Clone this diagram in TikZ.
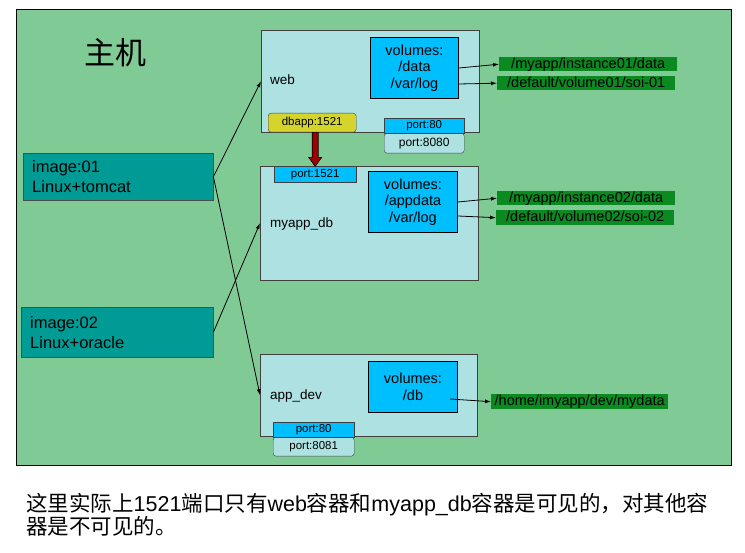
\documentclass[tikz,border=0pt]{standalone}
\usepackage{fontspec}
\setmainfont{Liberation Sans}
\newfontfamily\cjk{Noto Sans CJK SC}
\usetikzlibrary{positioning}
\usetikzlibrary{arrows.meta}
\definecolor{hostgreen}{HTML}{80CA96}
\definecolor{ctrcyan}{HTML}{AEE2E2}
\definecolor{volcyan}{HTML}{00BFFF}
\definecolor{imgteal}{HTML}{009B94}
\definecolor{pathgreen}{HTML}{0B8A22}
\definecolor{dbyellow}{HTML}{D4D42C}
\definecolor{linkred}{HTML}{A00000}
\tikzset{ctr/.style = {draw=black!75, fill=ctrcyan, anchor=north west, inner sep=0}}
\tikzset{vol/.style = {draw=black, line width=1pt, fill=volcyan, anchor=north west,
                       inner sep=0, align=center, font=\fontsize{14.5}{16.5}\selectfont}}
\tikzset{img/.style = {draw=black!70, fill=imgteal, anchor=north west, inner sep=0,
                       align=left, font=\fontsize{16.5}{20}\selectfont}}
\tikzset{hpath/.style = {fill=pathgreen, anchor=north west, inner sep=0,
                         text height=10.5, text depth=2.5, font=\fontsize{14.5}{15}\selectfont}}
\tikzset{port/.style = {draw=black!75, fill=volcyan, anchor=north west, inner sep=0,
                        font=\fontsize{11.5}{13}\selectfont}}
\tikzset{lbl/.style = {anchor=west, inner sep=0, font=\fontsize{13.5}{15}\selectfont}}
\tikzset{conn/.style = {-{Latex[length=6pt,width=4pt]}, line width=0.8pt}}
\begin{document}
\begin{tikzpicture}[x=1pt, y=-1pt]
  \useasboundingbox (0,0) rectangle (745,553);
  \fill[white] (0,0) rectangle (745,553);
  % host
  \draw[fill=hostgreen, line width=1pt] (16,10) rectangle (731,466);
  \node[font=\cjk\fontsize{31}{31}\selectfont] (host) at (115,53) {主机};
  % containers
  \node[ctr, minimum width=218, minimum height=102] (web) at (261,30) {};
  \node[ctr, minimum width=218, minimum height=114] (db) at (260,166) {};
  \node[ctr, minimum width=217, minimum height=82] (dev) at (260,354) {};
  \node[lbl] (weblbl) at (270,80) {web};
  \node[lbl] (dblbl) at (270,224) {myapp\_db};
  \node[lbl] (devlbl) at (270,396) {app\_dev};
  % volumes
  \node[vol, minimum width=88, minimum height=61] (vweb) at (370,37) {volumes:\\/data\\/var/log};
  \node[vol, minimum width=89, minimum height=61] (vdb) at (368,171) {volumes:\\/appdata\\/var/log};
  \node[vol, minimum width=89, minimum height=51] (vdev) at (368,361) {volumes:\\/db};
  % ports
  \node[port, fill=dbyellow, rounded corners=3pt, minimum width=88, minimum height=19,
        font=\fontsize{11.5}{13}\selectfont] (dbapp) at (268,113) {dbapp:1521};
  \node[port, fill=ctrcyan, rounded corners=3pt, minimum width=80, minimum height=20,
        font=\fontsize{12}{13}\selectfont] (p8080) at (384,133) {port:8080};
  \node[port, minimum width=80, minimum height=15] (pweb) at (384,118) {port:80};
  \node[port, minimum width=82, minimum height=16] (p1521) at (274,166) {port:1521};
  \node[port, fill=ctrcyan, rounded corners=3pt, minimum width=81, minimum height=19] (p8081) at (273,437) {port:8081};
  \node[port, minimum width=81, minimum height=15] (pdev) at (273,422) {port:80};
  % images
  \node[img, minimum width=190, minimum height=47, text width=172] (img1) at (23,153) {image:01\\Linux+tomcat};
  \node[img, minimum width=192, minimum height=50, text width=174] (img2) at (21,307) {image:02\\Linux+oracle};
  % host paths
  \node[hpath, minimum width=178, minimum height=14] (h1) at (499,57) {/myapp/instance01/data};
  \node[hpath, minimum width=178, minimum height=14] (h2) at (497,76) {/default/volume01/soi-01};
  \node[hpath, minimum width=178, minimum height=14] (h3) at (497,191) {/myapp/instance02/data};
  \node[hpath, minimum width=178, minimum height=15] (h4) at (496,210) {/default/volume02/soi-02};
  \node[hpath, minimum width=177, minimum height=15] (h5) at (491,394) {/home/imyapp/dev/mydata};
  % links
  \draw[conn] (img1.east) -- (web.west);
  \draw[conn] (img1.east) -- (dev.west);
  \draw[conn] (img2.east) -- (db.west);
  \draw[conn] (vweb.east) -- (h1.west);
  \draw[conn] ([yshift=-16]vweb.east) -- (h2.west);
  \draw[conn] (vdb.east) -- (h3.west);
  \draw[conn] ([yshift=-14]vdb.east) -- (h4.west);
  \draw[conn] ([xshift=-8,yshift=-12]vdev.east) -- (h5.west);
  \draw[fill=linkred, line width=0.6pt, line join=miter]
    (p1521.north |- dbapp.south) ++(-3,0) -- ++(0,25) -- ++(-3.5,0) -- ++(6.5,9)
    -- ++(6.5,-9) -- ++(-3.5,0) -- ++(0,-25) -- cycle;
  % note
  \node[anchor=north west, inner sep=0, align=left, font=\fontsize{21.5}{23.5}\selectfont] (note) at (26,493)
    {{\cjk 这里实际上}1521{\cjk 端口只有}web{\cjk 容器和}myapp\_db{\cjk 容器是可见的，对其他容}\\
     {\cjk 器是不可见的。}};
\end{tikzpicture}
\end{document}
